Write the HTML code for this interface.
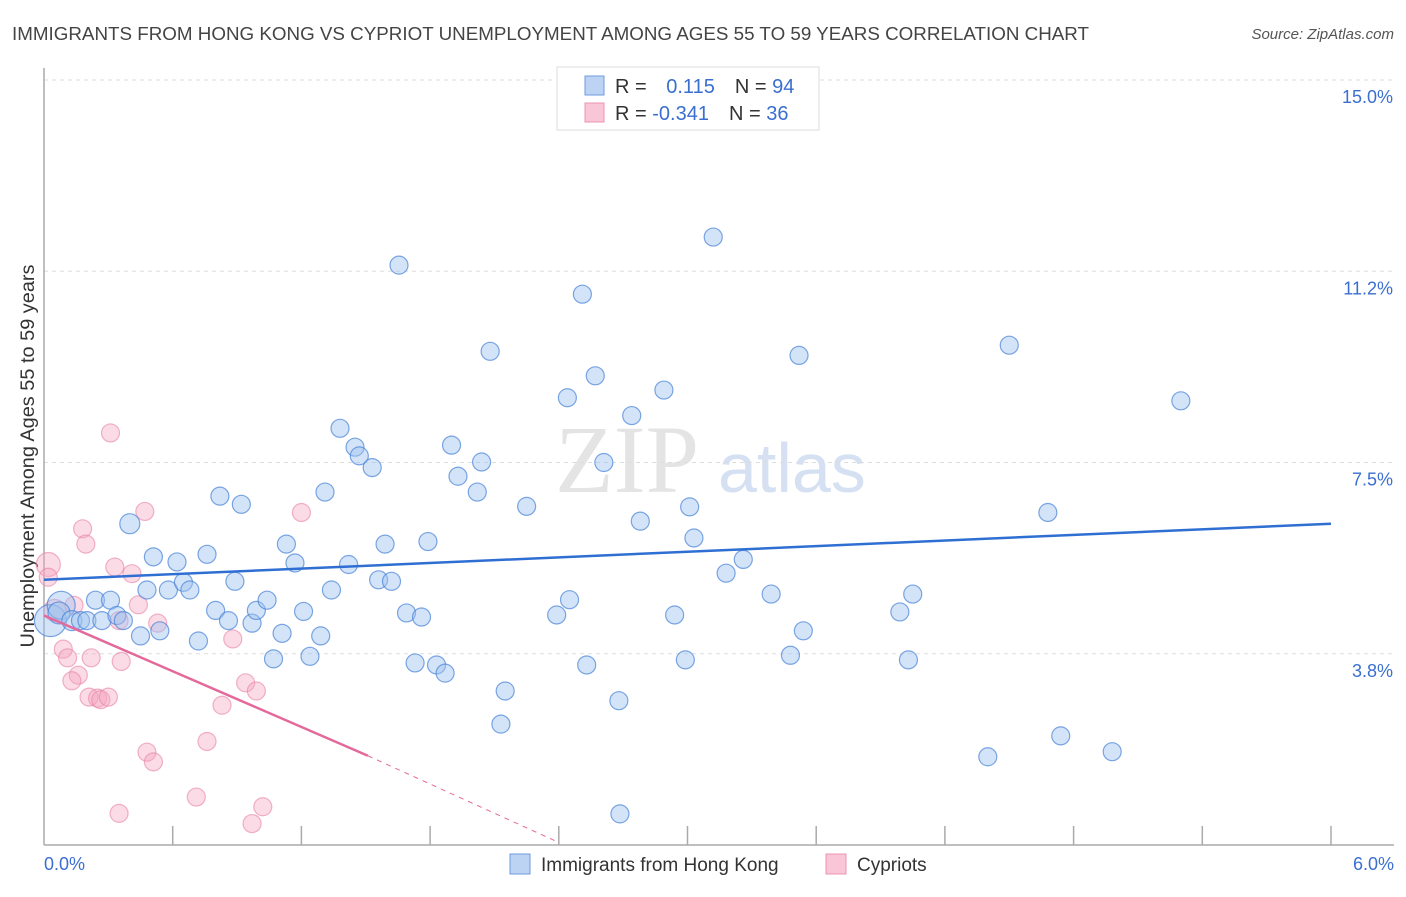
<!DOCTYPE html>
<html><head><meta charset="utf-8"><style>
body{margin:0;background:#fff;font-family:"Liberation Sans",sans-serif;}
</style></head><body>
<svg width="1406" height="892" xmlns="http://www.w3.org/2000/svg" font-family="Liberation Sans, sans-serif">
<text x="12" y="40" font-size="18.5" fill="#444" textLength="1077" lengthAdjust="spacingAndGlyphs">IMMIGRANTS FROM HONG KONG VS CYPRIOT UNEMPLOYMENT AMONG AGES 55 TO 59 YEARS CORRELATION CHART</text>
<text x="1394" y="39" font-size="15" fill="#555" font-style="italic" text-anchor="end">Source: ZipAtlas.com</text>
<text x="555" y="492" font-size="96" fill="#e4e4e4" font-family="Liberation Serif, serif">ZIP</text>
<text x="718" y="492" font-size="70" fill="#d5e1f3">atlas</text>
<g id="grid"></g>
<line x1="44" y1="68" x2="44" y2="845" stroke="#aaa" stroke-width="1.5"/>
<line x1="44" y1="845" x2="1394" y2="845" stroke="#aaa" stroke-width="1.5"/>
<g id="ticks"></g>
<text transform="translate(34,456) rotate(-90)" font-size="19" fill="#333" text-anchor="middle" textLength="383" lengthAdjust="spacingAndGlyphs">Unemployment Among Ages 55 to 59 years</text>
<text x="44" y="870" font-size="18" fill="#3a6fd0">0.0%</text>
<text x="1394" y="870" font-size="18" fill="#3a6fd0" text-anchor="end">6.0%</text>
<g id="points"></g>
<g id="trends"></g>
<g>
<rect x="557" y="67" width="262" height="63" fill="#fff" stroke="#ddd"/>
<rect x="585" y="76" width="19" height="19" fill="#bcd3f4" stroke="#6f9be0"/>
<rect x="585" y="103" width="19" height="19" fill="#f8c6d6" stroke="#ec94b2"/>
<text x="615" y="93" font-size="20" fill="#333">R = <tspan fill="#3a6fd0" dx="14">0.115</tspan><tspan dx="20">N = </tspan><tspan fill="#3a6fd0">94</tspan></text>
<text x="615" y="120" font-size="20" fill="#333">R = <tspan fill="#3a6fd0">-0.341</tspan><tspan dx="20">N = </tspan><tspan fill="#3a6fd0">36</tspan></text>
</g>
<g>
<rect x="510" y="854" width="20" height="20" fill="#bcd3f4" stroke="#6f9be0"/>
<text x="541" y="871" font-size="19" fill="#333">Immigrants from Hong Kong</text>
<rect x="826" y="854" width="20" height="20" fill="#f8c6d6" stroke="#ec94b2"/>
<text x="857" y="871" font-size="19" fill="#333">Cypriots</text>
</g>
</svg>
<script>
const yTicks=[15,11.25,7.5,3.75];
const yTickLabels=["15.0%","11.2%","7.5%","3.8%"];
const xTicks=[0.6,1.2,1.8,2.4,3.0,3.6,4.2,4.8,5.4,6.0];
const blueX=[0.03,0.08,0.07,0.13,0.17,0.2,0.24,0.27,0.31,0.34,0.37,0.40,0.45,0.48,0.51,0.54,0.58,0.62,0.65,0.68,0.72,0.76,0.80,0.82,0.86,0.89,0.92,0.97,0.99,1.04,1.07,1.11,1.13,1.17,1.21,1.24,1.29,1.31,1.34,1.38,1.42,1.45,1.47,1.53,1.56,1.62,1.59,1.655,1.69,1.73,1.76,1.79,1.83,1.87,1.90,1.93,2.02,2.04,2.08,2.15,2.13,2.25,2.39,2.44,2.45,2.51,2.53,2.57,2.61,2.68,2.685,2.74,2.78,2.89,2.94,2.99,3.01,3.03,3.12,3.18,3.26,3.39,3.48,3.52,3.54,3.99,4.03,4.05,4.40,4.50,4.68,4.74,4.98,5.30];
const blueY=[4.4,4.7,4.55,4.4,4.4,4.4,4.8,4.4,4.8,4.5,4.4,6.3,4.1,5.0,5.65,4.2,5.0,5.55,5.15,5.0,4.0,5.7,4.6,6.84,4.4,5.17,6.68,4.35,4.6,4.8,3.65,4.15,5.9,5.53,4.58,3.7,4.1,6.92,5.0,8.17,5.5,7.8,7.63,7.4,5.2,5.17,5.9,11.37,4.55,3.57,4.47,5.95,3.53,3.37,7.84,7.23,6.92,7.51,9.68,3.02,2.37,6.64,4.51,8.77,4.81,10.8,3.53,9.2,7.5,2.83,0.61,8.42,6.35,8.92,4.51,3.63,6.63,6.02,11.92,5.33,5.6,4.92,3.72,9.6,4.2,4.57,3.63,4.92,1.73,9.8,6.52,2.14,1.83,8.71];
const blueR=[16,14,11,10,9,9,9,9,9,9,9,10,9,9,9,9,9,9,9,9,9,9,9,9,9,9,9,9,9,9,9,9,9,9,9,9,9,9,9,9,9,9,9,9,9,9,9,9,9,9,9,9,9,9,9,9,9,9,9,9,9,9,9,9,9,9,9,9,9,9,9,9,9,9,9,9,9,9,9,9,9,9,9,9,9,9,9,9,9,9,9,9,9,9];
const pinkX=[0.02,0.02,0.05,0.14,0.18,0.195,0.09,0.11,0.16,0.13,0.22,0.21,0.25,0.265,0.30,0.31,0.33,0.36,0.41,0.44,0.47,0.48,0.51,0.53,0.35,0.88,0.94,0.99,0.83,0.76,0.71,0.35,1.02,0.97,1.20];
const pinkY=[5.5,5.25,4.6,4.7,6.2,5.9,3.84,3.67,3.33,3.22,3.67,2.9,2.88,2.85,2.9,8.08,5.45,3.6,5.32,4.71,6.54,1.82,1.63,4.35,0.62,4.04,3.18,3.02,2.74,2.03,0.94,4.4,0.75,0.42,6.52];
const pinkR=[12,9,11,9,9,9,9,9,9,9,9,9,9,9,9,9,9,9,9,9,9,9,9,9,9,9,9,9,9,9,9,9,9,9,9];
const blueTrend=[[0,5.2],[6,6.3]];
const pinkTrendSolid=[[0,4.5],[1.51,1.75]];
const pinkTrendDash=[[1.51,1.75],[2.4,0.05]];
const X=v=>44+v*214.5, Y=v=>845-v*51;
const NS="http://www.w3.org/2000/svg";
function mk(tag,attrs,parent){const e=document.createElementNS(NS,tag);for(const k in attrs)e.setAttribute(k,attrs[k]);parent.appendChild(e);return e;}
const grid=document.getElementById('grid'),ticks=document.getElementById('ticks'),pts=document.getElementById('points'),tr=document.getElementById('trends');
yTicks.forEach((t,i)=>{const l=mk('line',{x1:44,x2:1394,y1:Y(t),y2:Y(t),stroke:'#ddd','stroke-dasharray':'4,4'},grid);


const tx=mk('text',{x:1393,y:Y(t)+23,'font-size':18,fill:'#3a6fd0','text-anchor':'end'},ticks);tx.textContent=yTickLabels[i];

});
xTicks.forEach(t=>{const l=mk('line',{x1:X(t),x2:X(t),y1:826,y2:845,stroke:'#aaa','stroke-width':1.5},ticks);

});
pinkX.forEach((x,i)=>{const c=mk('circle',{cx:X(x),cy:Y(pinkY[i]),r:pinkR[i],fill:'rgba(244,165,192,0.4)',stroke:'rgba(232,130,165,0.6)','stroke-width':1.2},pts);

});
blueX.forEach((x,i)=>{const c=mk('circle',{cx:X(x),cy:Y(blueY[i]),r:blueR[i],fill:'rgba(160,195,240,0.45)',stroke:'rgba(70,130,215,0.7)','stroke-width':1.2},pts);

});
function line(p,col,w,dash,name){const l=mk('line',{x1:X(p[0][0]),y1:Y(p[0][1]),x2:X(p[1][0]),y2:Y(p[1][1]),stroke:col,'stroke-width':w},tr);if(dash)l.setAttribute('stroke-dasharray',dash);

}
line(blueTrend,'#2f6fd3',2.5,null,'hong-kong-trendline');
line(pinkTrendSolid,'#e4699a',2.5,null,'cypriot-trendline');
line(pinkTrendDash,'#e4699a',1,'5,5','cypriot-trendline-extension');
</script>
</body></html>
